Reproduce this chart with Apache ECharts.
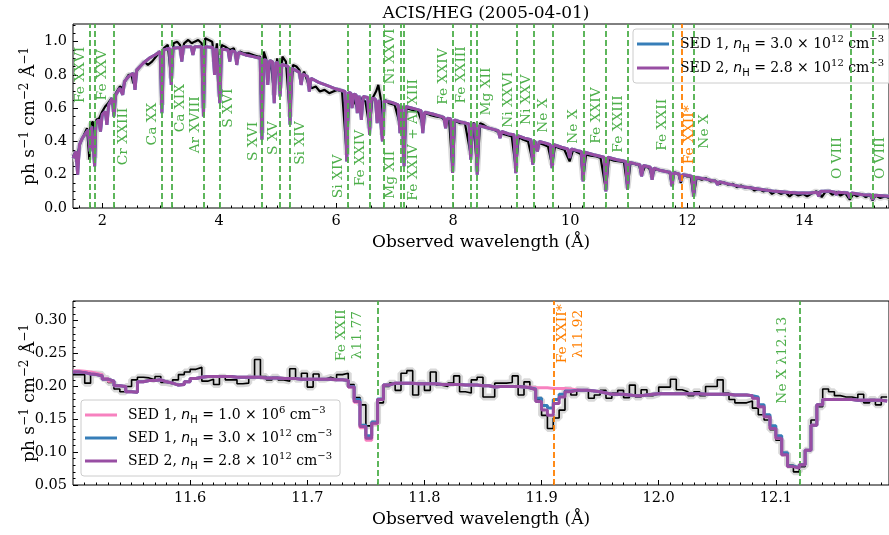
<!DOCTYPE html>
<html>
<head>
<meta charset="utf-8">
<script src="https://cdn.jsdelivr.net/npm/echarts@6/dist/echarts.min.js"></script>
<style>
  html, body { margin: 0; padding: 0; background: #fff; }
  #chart { width: 889px; height: 535px; }
</style>
</head>
<body>
<div id="chart"></div>
<script>
// ---- top panel: full HEG band, [wavelength, flux] ----
const obsTop = [
  [1.50,0.31],[1.53,0.33],[1.56,0.28],[1.59,0.34],[1.63,0.40],[1.66,0.42],[1.70,0.45],[1.74,0.48],[1.76,0.49],[1.78,0.29],
  [1.80,0.50],[1.84,0.52],[1.87,0.30],[1.90,0.53],[1.95,0.54],[2.00,0.58],[2.05,0.61],[2.10,0.63],[2.16,0.66],[2.20,0.58],
  [2.23,0.69],[2.30,0.73],[2.35,0.72],[2.40,0.77],[2.45,0.80],[2.50,0.80],[2.53,0.75],[2.58,0.82],[2.65,0.85],[2.72,0.88],
  [2.78,0.86],[2.85,0.88],[2.92,0.91],[2.99,0.94],[3.02,0.62],[3.05,0.96],[3.12,0.98],[3.18,0.78],[3.22,0.99],[3.28,1.00],
  [3.33,0.98],[3.36,0.92],[3.40,0.99],[3.47,1.01],[3.53,0.99],[3.58,1.00],[3.64,1.01],[3.70,0.99],[3.73,0.60],[3.76,1.02],
  [3.82,1.01],[3.88,1.00],[3.92,0.88],[3.96,0.99],[4.01,0.67],[4.04,0.98],[4.10,0.97],[4.18,0.95],[4.25,0.96],[4.30,0.90],
  [4.35,0.94],[4.42,0.93],[4.50,0.93],[4.58,0.92],[4.66,0.91],[4.70,0.91],[4.73,0.45],[4.76,0.94],[4.80,0.90],[4.83,0.78],
  [4.88,0.89],[4.94,0.68],[4.99,0.90],[5.04,0.72],[5.08,0.91],[5.14,0.88],[5.21,0.55],[5.26,0.86],[5.32,0.85],[5.37,0.83],
  [5.40,0.78],[5.45,0.82],[5.52,0.75],[5.58,0.72],[5.65,0.73],[5.72,0.70],[5.80,0.71],[5.88,0.69],[5.95,0.70],[6.02,0.71],
  [6.10,0.70],[6.18,0.32],[6.22,0.68],[6.30,0.65],[6.36,0.60],[6.42,0.66],[6.50,0.64],[6.57,0.48],[6.62,0.66],[6.68,0.70],
  [6.72,0.74],[6.76,0.66],[6.79,0.44],[6.83,0.65],[6.90,0.63],[7.00,0.62],[7.09,0.50],[7.12,0.61],[7.16,0.29],[7.20,0.60],
  [7.30,0.59],[7.40,0.58],[7.48,0.50],[7.52,0.57],[7.60,0.56],[7.70,0.55],[7.80,0.545],[7.87,0.52],[7.93,0.53],[7.99,0.22],
  [8.03,0.525],[8.12,0.51],[8.20,0.51],[8.30,0.32],[8.35,0.515],[8.41,0.22],[8.46,0.51],[8.52,0.50],[8.60,0.48],[8.70,0.47],
  [8.80,0.45],[8.90,0.44],[9.00,0.43],[9.07,0.24],[9.12,0.425],[9.20,0.41],[9.28,0.40],[9.36,0.28],[9.40,0.40],[9.44,0.36],
  [9.48,0.39],[9.55,0.38],[9.62,0.37],[9.69,0.26],[9.74,0.37],[9.82,0.36],[9.90,0.35],[9.99,0.28],[10.05,0.35],[10.12,0.335],
  [10.18,0.325],[10.22,0.17],[10.27,0.32],[10.35,0.315],[10.45,0.31],[10.52,0.30],[10.61,0.11],[10.66,0.295],[10.75,0.285],[10.85,0.28],
  [10.92,0.275],[10.98,0.12],[11.03,0.27],[11.10,0.265],[11.18,0.255],[11.22,0.20],[11.28,0.25],[11.35,0.24],[11.40,0.19],[11.45,0.235],
  [11.55,0.225],[11.65,0.22],[11.70,0.21],[11.74,0.14],[11.78,0.215],[11.85,0.205],[11.89,0.15],[11.93,0.20],[12.00,0.19],[12.06,0.19],
  [12.11,0.07],[12.16,0.18],[12.25,0.17],[12.32,0.18],[12.40,0.16],[12.48,0.165],[12.55,0.145],[12.62,0.155],[12.70,0.14],[12.78,0.145],
  [12.85,0.125],[12.92,0.135],[13.00,0.12],[13.08,0.125],[13.15,0.105],[13.22,0.115],[13.30,0.10],[13.38,0.11],[13.45,0.085],[13.52,0.10],
  [13.60,0.085],[13.68,0.095],[13.75,0.07],[13.82,0.09],[13.90,0.075],[13.98,0.085],[14.05,0.07],[14.12,0.085],[14.20,0.10],[14.26,0.09],
  [14.30,0.065],[14.36,0.095],[14.42,0.10],[14.48,0.08],[14.55,0.095],[14.62,0.075],[14.70,0.09],[14.78,0.05],[14.84,0.085],[14.90,0.07],
  [14.98,0.085],[15.05,0.065],[15.12,0.08],[15.17,0.045],[15.22,0.075],[15.30,0.06],[15.38,0.07],[15.45,0.06]
];

const sedTop = [
  [1.50,0.30],[1.55,0.34],[1.58,0.20],[1.61,0.38],[1.66,0.42],[1.72,0.45],[1.76,0.47],[1.79,0.34],[1.82,0.49],[1.85,0.50],
  [1.87,0.25],[1.89,0.51],[1.94,0.53],[1.97,0.46],[2.00,0.56],[2.05,0.58],[2.08,0.50],[2.11,0.62],[2.17,0.66],[2.20,0.55],
  [2.23,0.68],[2.30,0.72],[2.35,0.68],[2.38,0.76],[2.45,0.79],[2.53,0.81],[2.56,0.71],[2.59,0.83],[2.70,0.87],[2.80,0.90],
  [2.90,0.92],[2.99,0.94],[3.02,0.57],[3.05,0.95],[3.15,0.96],[3.18,0.74],[3.21,0.96],[3.33,0.965],[3.36,0.88],[3.39,0.97],
  [3.52,0.97],[3.55,0.92],[3.58,0.97],[3.70,0.97],[3.73,0.55],[3.76,0.97],[3.89,0.965],[3.92,0.80],[3.95,0.96],[3.98,0.96],
  [4.01,0.63],[4.04,0.955],[4.15,0.95],[4.18,0.88],[4.21,0.945],[4.27,0.94],[4.30,0.86],[4.33,0.935],[4.45,0.92],[4.58,0.91],
  [4.70,0.90],[4.73,0.41],[4.76,0.89],[4.80,0.89],[4.83,0.74],[4.86,0.885],[4.91,0.88],[4.94,0.63],[4.97,0.875],[5.01,0.87],
  [5.04,0.67],[5.07,0.865],[5.18,0.85],[5.21,0.50],[5.24,0.84],[5.37,0.815],[5.40,0.74],[5.43,0.805],[5.51,0.79],[5.54,0.70],
  [5.57,0.78],[5.70,0.755],[5.85,0.735],[6.00,0.715],[6.15,0.70],[6.18,0.28],[6.21,0.695],[6.25,0.69],[6.27,0.60],[6.30,0.685],
  [6.34,0.68],[6.36,0.57],[6.39,0.675],[6.41,0.67],[6.43,0.53],[6.46,0.67],[6.54,0.665],[6.57,0.44],[6.60,0.66],[6.67,0.655],
  [6.70,0.51],[6.73,0.65],[6.76,0.65],[6.79,0.40],[6.82,0.645],[6.95,0.635],[7.06,0.62],[7.09,0.45],[7.12,0.615],[7.13,0.615],
  [7.16,0.25],[7.19,0.61],[7.30,0.60],[7.45,0.585],[7.48,0.45],[7.51,0.575],[7.65,0.565],[7.84,0.545],[7.87,0.48],[7.90,0.54],
  [7.96,0.535],[7.99,0.21],[8.02,0.53],[8.15,0.515],[8.27,0.505],[8.30,0.29],[8.33,0.50],[8.38,0.50],[8.41,0.20],[8.44,0.495],
  [8.55,0.485],[8.77,0.465],[8.80,0.42],[8.83,0.46],[8.95,0.445],[9.04,0.44],[9.07,0.21],[9.10,0.435],[9.22,0.42],[9.33,0.41],
  [9.36,0.26],[9.39,0.405],[9.41,0.40],[9.44,0.34],[9.47,0.40],[9.58,0.39],[9.66,0.38],[9.69,0.24],[9.72,0.38],[9.85,0.365],
  [9.96,0.355],[9.99,0.30],[10.02,0.355],[10.12,0.345],[10.19,0.34],[10.22,0.16],[10.25,0.335],[10.40,0.32],[10.58,0.305],[10.61,0.10],
  [10.64,0.305],[10.80,0.29],[10.95,0.28],[10.98,0.11],[11.01,0.275],[11.12,0.265],[11.19,0.26],[11.22,0.19],[11.25,0.255],[11.37,0.245],
  [11.40,0.17],[11.43,0.24],[11.55,0.225],[11.65,0.218],[11.71,0.215],[11.74,0.13],[11.77,0.212],[11.86,0.205],[11.89,0.16],[11.92,0.20],
  [12.02,0.195],[12.08,0.19],[12.11,0.07],[12.14,0.185],[12.30,0.175],[12.49,0.16],[12.52,0.14],[12.55,0.158],[12.70,0.145],[12.90,0.13],
  [13.10,0.12],[13.30,0.11],[13.50,0.10],[13.70,0.095],[13.90,0.09],[14.10,0.09],[14.22,0.095],[14.25,0.07],[14.28,0.10],[14.45,0.10],
  [14.52,0.095],[14.55,0.08],[14.58,0.095],[14.75,0.09],[14.78,0.06],[14.81,0.09],[15.00,0.08],[15.14,0.078],[15.17,0.05],[15.20,0.077],
  [15.45,0.07]
];

// observed line positions (Å) and their labels [text, λ, flux]
const greenLinesTop = [1.79, 1.87, 2.20, 3.02, 3.18, 3.73, 4.01, 4.73, 5.04, 5.21, 6.19, 6.58, 6.81, 7.10, 7.16,
  7.99, 8.30, 8.41, 9.08, 9.38, 9.70, 10.23, 10.61, 10.98, 11.75, 12.11, 14.80, 15.17];
const orangeLinesTop = [11.90];
const greenLabelsTop = [
  ['Fe XXVI', 1.63, 0.80], ['Fe XXV', 2.00, 0.80], ['Cr XXIII', 2.36, 0.43], ['Ca XX', 2.85, 0.505],
  ['Ca XIX', 3.34, 0.60], ['Ar XVIII', 3.59, 0.50], ['S XVI', 4.16, 0.60], ['S XVI', 4.58, 0.40],
  ['S XV', 4.92, 0.42], ['Si XIV', 5.38, 0.39], ['Si XIV', 6.04, 0.19], ['Fe XXIV', 6.42, 0.30],
  ['Mg XII', 6.93, 0.20], ['Ni XXVI', 6.93, 0.91], ['Fe XXIV + Al XIII', 7.32, 0.41], ['Fe XXIV', 7.83, 0.79],
  ['Fe XXIII', 8.14, 0.80], ['Mg XII', 8.57, 0.70], ['Ni XXVI', 8.94, 0.65], ['Ni XXV', 9.25, 0.65],
  ['Ne X', 9.54, 0.556], ['Ne X', 10.05, 0.49], ['Fe XXIV', 10.45, 0.556], ['Fe XXIII', 10.83, 0.505],
  ['Fe XXII', 11.58, 0.50], ['Ne X', 12.30, 0.46], ['O VIII', 14.57, 0.30], ['O VIII', 15.31, 0.30]
];
const orangeLabelsTop = [['Fe XXII*', 12.03, 0.44]];

// ---- bottom panel: 0.005 Å bins starting at 11.5 Å ----
const binStart = 11.5;
const binWidth = 0.005;
const obsBot = [
  0.218,0.218,0.205,0.219,0.218,0.212,0.206,0.196,0.192,0.200,
  0.210,0.214,0.213,0.210,0.215,0.206,0.204,0.210,0.218,0.222,
  0.226,0.229,0.208,0.211,0.203,0.214,0.210,0.210,0.204,0.205,
  0.214,0.241,0.215,0.210,0.214,
  0.210,0.208,0.227,0.211,0.220,0.199,0.219,0.211,0.214,0.211,
  0.218,0.220,0.203,0.183,0.172,0.140,0.144,0.175,0.200,0.205,
  0.194,0.220,0.224,0.187,0.205,0.194,0.222,0.202,0.200,0.205,
  0.216,0.192,0.190,0.210,0.214,
  0.184,0.184,0.205,0.205,0.206,0.216,0.187,0.207,0.197,0.180,
  0.156,0.136,0.152,0.164,0.195,0.187,0.195,0.194,0.182,0.187,
  0.194,0.182,0.190,0.194,0.183,0.202,0.184,0.195,0.186,0.189,
  0.199,0.199,0.211,0.195,0.192,
  0.186,0.192,0.186,0.200,0.200,0.210,0.190,0.180,0.175,0.175,0.178,
  0.167,0.157,0.149,0.134,0.118,0.098,0.080,0.070,0.078,0.103,0.149,0.169,0.196,
  0.192,0.186,0.184,0.184,0.182,0.188,0.175,0.180,0.172,0.184
];
const sed1LoBot = [
  0.224,0.223,0.222,0.220,0.218,0.212,0.208,0.201,0.200,0.192,
  0.191,0.207,0.209,0.209,0.210,0.207,0.205,0.202,0.203,0.207,
  0.212,0.214,0.215,0.215,0.215,0.215,0.215,0.214,0.214,0.214,
  0.214,0.214,0.213,0.213,0.213,
  0.212,0.212,0.212,0.211,0.211,0.211,0.211,0.211,0.211,0.210,
  0.210,0.209,0.199,0.176,0.137,0.118,0.143,0.180,0.202,0.205,
  0.205,0.205,0.205,0.204,0.204,0.204,0.204,0.203,0.203,0.203,
  0.203,0.202,0.202,0.202,0.201,
  0.201,0.199,0.200,0.200,0.200,0.200,0.199,0.199,0.198,0.198,
  0.198,0.197,0.197,0.197,0.196,0.195,0.194,0.194,0.193,0.192,
  0.190,0.188,0.188,0.188,0.187,0.186,0.186,0.187,0.188,0.189,
  0.189,0.189,0.189,0.189,0.189,
  0.189,0.189,0.188,0.188,0.188,0.188,0.188,0.187,0.187,0.187,0.186,
  0.182,0.169,0.154,0.136,0.121,0.096,0.078,0.076,0.081,0.103,0.141,0.172,0.180,
  0.180,0.180,0.180,0.180,0.179,0.179,0.179,0.179,0.179,0.178
];
const sed1HiBot = [
  0.222,0.221,0.219,0.218,0.216,0.211,0.208,0.201,0.200,0.192,
  0.191,0.207,0.209,0.209,0.210,0.207,0.205,0.202,0.203,0.207,
  0.212,0.214,0.215,0.215,0.215,0.215,0.215,0.214,0.214,0.214,
  0.214,0.214,0.213,0.213,0.213,
  0.212,0.212,0.212,0.211,0.211,0.211,0.211,0.211,0.211,0.210,
  0.210,0.209,0.200,0.180,0.141,0.125,0.146,0.181,0.202,0.205,
  0.205,0.205,0.205,0.204,0.204,0.204,0.204,0.203,0.203,0.203,
  0.203,0.202,0.202,0.202,0.201,
  0.201,0.199,0.200,0.200,0.200,0.200,0.199,0.198,0.196,0.182,
  0.171,0.167,0.180,0.188,0.193,0.194,0.194,0.194,0.193,0.192,
  0.190,0.188,0.188,0.188,0.187,0.186,0.186,0.187,0.188,0.189,
  0.189,0.189,0.189,0.189,0.189,
  0.189,0.189,0.188,0.188,0.188,0.188,0.188,0.187,0.187,0.187,0.186,
  0.184,0.172,0.157,0.140,0.125,0.099,0.079,0.076,0.081,0.103,0.141,0.172,0.180,
  0.180,0.180,0.180,0.180,0.179,0.179,0.179,0.179,0.179,0.178
];
const sed2Bot = [
  0.222,0.221,0.219,0.218,0.216,0.211,0.208,0.201,0.200,0.192,
  0.191,0.207,0.209,0.209,0.210,0.207,0.205,0.202,0.203,0.207,
  0.212,0.214,0.215,0.215,0.215,0.215,0.215,0.214,0.214,0.214,
  0.214,0.214,0.213,0.213,0.213,
  0.212,0.212,0.212,0.211,0.211,0.211,0.211,0.211,0.211,0.210,
  0.210,0.209,0.199,0.177,0.139,0.121,0.144,0.180,0.202,0.205,
  0.205,0.205,0.205,0.204,0.204,0.204,0.204,0.203,0.203,0.203,
  0.203,0.202,0.202,0.202,0.201,
  0.201,0.199,0.200,0.200,0.200,0.200,0.199,0.198,0.195,0.177,
  0.164,0.156,0.174,0.184,0.192,0.194,0.194,0.194,0.193,0.192,
  0.190,0.188,0.188,0.188,0.187,0.186,0.186,0.187,0.188,0.189,
  0.189,0.189,0.189,0.189,0.189,
  0.189,0.189,0.188,0.188,0.188,0.188,0.188,0.187,0.187,0.187,0.186,
  0.182,0.169,0.154,0.136,0.121,0.096,0.078,0.076,0.081,0.103,0.141,0.172,0.180,
  0.180,0.180,0.180,0.180,0.179,0.179,0.179,0.179,0.179,0.178
];
const greenLinesBot = [11.7565, 12.1165];
const orangeLinesBot = [11.907];
const greenLabelsBot = [['Fe XXII\nλ11.77', 11.736, 0.278], ['Ne X λ12.13', 12.1056, 0.240]];
const orangeLabelsBot = [['Fe XXII*\nλ11.92', 11.925, 0.280]];

// ticks
const topXTicks = [2, 4, 6, 8, 10, 12, 14];
const topYTicks = [0, 0.2, 0.4, 0.6, 0.8, 1.0];
const botXTicks = [11.6, 11.7, 11.8, 11.9, 12.0, 12.1];
const botYTicks = [0.05, 0.10, 0.15, 0.20, 0.25, 0.30];

const serif = 'DejaVu Serif';
const GREEN = '#4daf4a', ORANGE = '#ff7f00';
const PINK = '#f781bf', BLUE = '#377eb8', PURPLE = '#984ea3';

const steps = (a, b, s) => {
  const out = [];
  for (let i = 0; a + i * s <= b + 1e-9; i++) out.push(+(a + i * s).toFixed(4));
  return out;
};
const stepPts = vals => {
  const pts = vals.map((v, i) => [binStart + i * binWidth, v]);
  pts.push([binStart + vals.length * binWidth, vals[vals.length - 1]]);
  return pts;
};

const tickLabel = { color: '#000', fontFamily: serif, fontSize: 14.5 };
const axisName = { color: '#000', fontFamily: serif, fontSize: 17 };
const yName = '{n|ph s}{sup|−1}{n| cm}{sup|−2}{n| Å}{sup|−1}';
const yNameStyle = {
  ...axisName,
  rich: {
    n: { fontFamily: serif, fontSize: 17, color: '#000', lineHeight: 22 },
    sup: { fontFamily: serif, fontSize: 12, color: '#000', verticalAlign: 'top', lineHeight: 13 }
  }
};

const mainX = (grid, min, max, ticks, digits) => ({
  gridIndex: grid, type: 'value', min, max, position: 'bottom',
  axisLine: { show: false }, splitLine: { show: false },
  axisTick: { inside: true, length: 5, customValues: ticks, lineStyle: { color: '#000' } },
  axisLabel: { ...tickLabel, customValues: ticks, margin: 6, formatter: v => v.toFixed(digits) },
  name: 'Observed wavelength (Å)', nameLocation: 'middle', nameGap: 26, nameMoveOverlap: false,
  nameTextStyle: axisName
});
const minorX = (grid, min, max, ticks) => ({
  gridIndex: grid, type: 'value', min, max, position: 'bottom',
  axisLine: { show: false }, splitLine: { show: false }, axisLabel: { show: false },
  axisTick: { inside: true, length: 2.5, customValues: ticks, lineStyle: { color: '#000' } }
});
const mainY = (grid, min, max, ticks, digits) => ({
  gridIndex: grid, type: 'value', min, max, position: 'left',
  axisLine: { show: false }, splitLine: { show: false },
  axisTick: { inside: true, length: 5, customValues: ticks, lineStyle: { color: '#000' } },
  axisLabel: { ...tickLabel, customValues: ticks, margin: 6, formatter: v => v.toFixed(digits) },
  name: yName, nameLocation: 'middle', nameGap: 32, nameMoveOverlap: false, nameTextStyle: yNameStyle
});
const minorY = (grid, min, max, ticks) => ({
  gridIndex: grid, type: 'value', min, max, position: 'left',
  axisLine: { show: false }, splitLine: { show: false }, axisLabel: { show: false },
  axisTick: { inside: true, length: 2.5, customValues: ticks, lineStyle: { color: '#000' } }
});

const lineSeries = (name, xi, yi, data, color, width, step, z) => ({
  type: 'line', name, xAxisIndex: xi, yAxisIndex: yi, data, step: step ? 'end' : false,
  showSymbol: false, symbol: 'none', silent: true, z,
  itemStyle: { color }, lineStyle: { color, width }
});
const vlines = (xi, yi, greens, oranges) => ({
  type: 'line', name: 'lines', xAxisIndex: xi, yAxisIndex: yi, data: [], z: 8, silent: true,
  markLine: {
    silent: true, symbol: ['none', 'none'], animation: false, label: { show: false },
    lineStyle: { color: GREEN, type: [6, 3], width: 1.8 },
    data: greens.map(x => ({ xAxis: x }))
      .concat(oranges.map(x => ({ xAxis: x, lineStyle: { color: ORANGE, type: [6, 3], width: 1.8 } })))
  }
});
const labels = (xi, yi, list, color) => ({
  type: 'custom', coordinateSystem: 'cartesian2d', xAxisIndex: xi, yAxisIndex: yi,
  silent: true, z: 9, clip: false,
  data: list.map(l => [l[1], l[2]]),
  renderItem: (params, api) => {
    const p = api.coord([api.value(0), api.value(1)]);
    return {
      type: 'text', x: p[0], y: p[1], rotation: Math.PI / 2,
      style: {
        text: list[params.dataIndex][0], fill: color, fontFamily: serif, fontSize: 13.8,
        align: 'center', verticalAlign: 'middle', lineHeight: 16
      }
    };
  }
});

const legendRich = {
  gap: { width: 6 },
  a: { fontFamily: serif, fontSize: 14, color: '#000', lineHeight: 20 },
  i: { fontFamily: 'DejaVu Sans', fontStyle: 'italic', fontSize: 14, color: '#000', lineHeight: 20 },
  sub: { fontFamily: 'DejaVu Sans', fontSize: 10, color: '#000', verticalAlign: 'bottom', lineHeight: 12 },
  sup: { fontFamily: serif, fontSize: 10, color: '#000', verticalAlign: 'top', lineHeight: 12 }
};
const legendText = {
  SED1_lo: '{gap|}{a|SED 1, }{i|n}{sub|H}{a| = 1.0 × 10}{sup|6}{a| cm}{sup|−3}',
  SED1_hi: '{gap|}{a|SED 1, }{i|n}{sub|H}{a| = 3.0 × 10}{sup|12}{a| cm}{sup|−3}',
  SED2: '{gap|}{a|SED 2, }{i|n}{sub|H}{a| = 2.8 × 10}{sup|12}{a| cm}{sup|−3}'
};
const legendBase = {
  orient: 'vertical', selectedMode: false, icon: 'rect', itemWidth: 32, itemHeight: 3,
  backgroundColor: 'rgba(255,255,255,0.8)', borderColor: '#cccccc', borderWidth: 1, borderRadius: 3,
  formatter: name => legendText[name],
  textStyle: { fontFamily: serif, fontSize: 14, color: '#000', rich: legendRich }
};

const chart = echarts.init(document.getElementById('chart'));
chart.setOption({
  animation: false,
  backgroundColor: '#fff',
  title: {
    text: 'ACIS/HEG (2005-04-01)', left: 481, top: 0, textAlign: 'center',
    textStyle: { fontFamily: serif, fontSize: 17, fontWeight: 'normal', color: '#000' }
  },
  grid: [
    { left: 73, top: 24, width: 817, height: 184, show: true, borderColor: '#000', borderWidth: 1, backgroundColor: 'transparent' },
    { left: 73, top: 301, width: 817, height: 184, show: true, borderColor: '#000', borderWidth: 1, backgroundColor: 'transparent' }
  ],
  xAxis: [
    mainX(0, 1.5, 15.45, topXTicks, 0),
    minorX(0, 1.5, 15.45, steps(1.6, 15.4, 0.2)),
    mainX(1, 11.5, 12.1966, botXTicks, 1),
    minorX(1, 11.5, 12.1966, steps(11.51, 12.19, 0.01))
  ],
  yAxis: [
    mainY(0, 0, 1.106, topYTicks, 1),
    minorY(0, 0, 1.106, steps(0.05, 1.1, 0.05)),
    mainY(1, 0.05, 0.33, botYTicks, 2),
    minorY(1, 0.05, 0.33, steps(0.06, 0.33, 0.01))
  ],
  legend: [
    { ...legendBase, left: 633, top: 29, padding: [5, 8, 5, 4], itemGap: 4, data: ['SED1_hi', 'SED2'] },
    { ...legendBase, left: 81, top: 400, padding: [5, 8, 5, 4], itemGap: 3, data: ['SED1_lo', 'SED1_hi', 'SED2'] }
  ],
  series: [
    lineSeries('obsBandTop', 0, 0, obsTop, '#dadada', 6, false, 1),
    lineSeries('obsTop', 0, 0, obsTop, '#000', 2.2, false, 2),
    lineSeries('SED1_hi', 0, 0, sedTop, BLUE, 3, false, 3),
    lineSeries('SED2', 0, 0, sedTop, PURPLE, 3, false, 4),
    vlines(0, 0, greenLinesTop, orangeLinesTop),
    labels(0, 0, greenLabelsTop, GREEN),
    labels(0, 0, orangeLabelsTop, ORANGE),

    lineSeries('obsBandBot', 2, 2, stepPts(obsBot), 'rgba(170,170,170,0.45)', 7, true, 1),
    lineSeries('obsBot', 2, 2, stepPts(obsBot), '#000', 1.6, true, 2),
    lineSeries('SED1_lo', 2, 2, stepPts(sed1LoBot), PINK, 3, true, 3),
    lineSeries('SED1_hi', 2, 2, stepPts(sed1HiBot), BLUE, 3, true, 4),
    lineSeries('SED2', 2, 2, stepPts(sed2Bot), PURPLE, 3, true, 5),
    vlines(2, 2, greenLinesBot, orangeLinesBot),
    labels(2, 2, greenLabelsBot, GREEN),
    labels(2, 2, orangeLabelsBot, ORANGE)
  ]
});
</script>
</body>
</html>
